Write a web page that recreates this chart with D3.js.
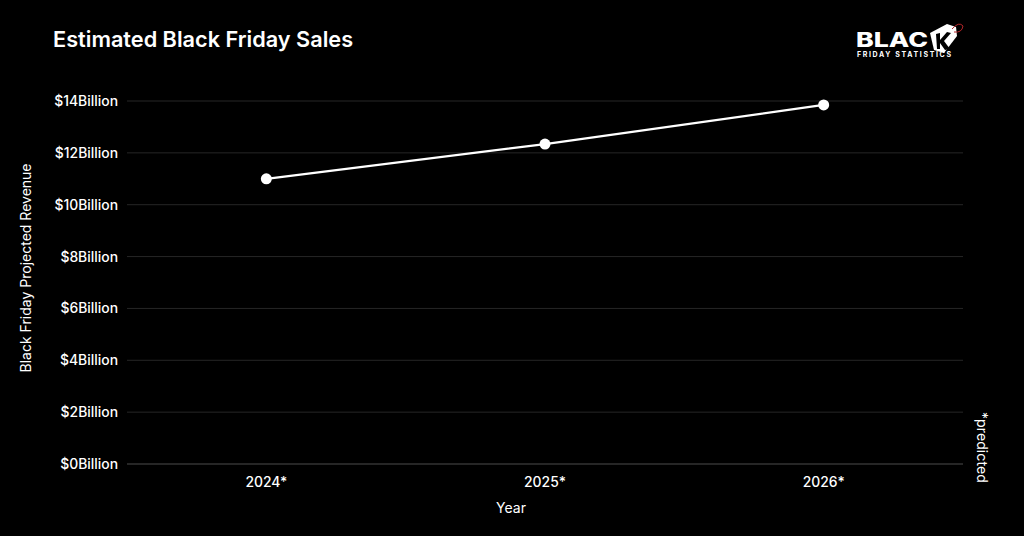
<!DOCTYPE html>
<html><head><meta charset="utf-8">
<script src="https://cdn.jsdelivr.net/npm/d3@7"></script>
<style>html,body{margin:0;padding:0;background:#000;}svg{display:block;}</style>
</head><body>
<svg id="c" width="1024" height="536"></svg>
<script>
const categories = ["2024*", "2025*", "2026*"];
const revenue = [11.0, 12.34, 13.85];
const yTicks = [0, 2, 4, 6, 8, 10, 12, 14];

const svg = d3.select("#c");
const W = 1024, H = 536;
svg.append("rect").attr("width", W).attr("height", H).attr("fill", "#000");
const m = {left: 127, right: 963, top: 101, bottom: 464};
const font = "Inter, 'Noto Sans', sans-serif";

const x = d3.scaleBand().domain(categories).range([m.left, m.right]);
const y = d3.scaleLinear().domain([0, 14]).range([m.bottom, m.top]);

// gridlines
svg.append("g").selectAll("line").data(yTicks.filter(d => d > 0)).join("line")
  .attr("x1", m.left).attr("x2", m.right)
  .attr("y1", d => y(d)).attr("y2", d => y(d))
  .attr("stroke", "#262626").attr("stroke-width", 1);
svg.append("line").attr("x1", m.left).attr("x2", m.right)
  .attr("y1", y(0)).attr("y2", y(0)).attr("stroke", "#4d4d4d").attr("stroke-width", 1);

// y axis labels
const yAxis = d3.axisLeft(y).tickValues(yTicks).tickSize(0).tickPadding(9)
  .tickFormat(d => "$" + d + "Billion");
const gy = svg.append("g").attr("transform", `translate(${m.left},0)`).call(yAxis);
gy.select(".domain").remove();
gy.selectAll("text").attr("fill", "#fff").attr("font-family", font)
  .attr("font-size", 13.9).attr("font-weight", 500);

// x axis labels
const xAxis = d3.axisBottom(x).tickSize(0).tickPadding(13);
const gx = svg.append("g").attr("transform", `translate(0,${m.bottom})`).call(xAxis);
gx.select(".domain").remove();
gx.selectAll("text").attr("fill", "#fff").attr("font-family", font)
  .attr("font-size", 13.9).attr("font-weight", 500);

// line
const cx = d => x(d) + x.bandwidth() / 2;
const line = d3.line().x((d, i) => cx(categories[i])).y(d => y(d));
svg.append("path").datum(revenue).attr("d", line)
  .attr("fill", "none").attr("stroke", "#fff").attr("stroke-width", 2.2);
svg.append("g").selectAll("circle").data(revenue).join("circle")
  .attr("cx", (d, i) => cx(categories[i])).attr("cy", d => y(d)).attr("r", 5.5)
  .attr("fill", "#fff");

// titles
svg.append("text").attr("x", 53).attr("y", 47).text("Estimated Black Friday Sales")
  .attr("fill", "#fff").attr("font-family", font).attr("font-size", 21.7).attr("font-weight", 600);
svg.append("text").attr("x", 511).attr("y", 513).attr("text-anchor", "middle")
  .text("Year").attr("fill", "#fff").attr("font-family", font).attr("font-size", 14);
svg.append("text").attr("transform", "translate(31,268) rotate(-90)").attr("text-anchor", "middle")
  .text("Black Friday Projected Revenue").attr("fill", "#fff").attr("font-family", font).attr("font-size", 14);
svg.append("text").attr("transform", "translate(977,412) rotate(90)").attr("text-anchor", "start")
  .text("*predicted").attr("fill", "#fff").attr("font-family", font).attr("font-size", 14.2);

// logo
const lg = svg.append("g");
lg.append("text").attr("x", 856).attr("y", 47).text("BLAC")
  .attr("textLength", 72).attr("lengthAdjust", "spacingAndGlyphs")
  .attr("fill", "#fff").attr("font-family", font).attr("font-size", 20).attr("font-weight", 800);
lg.append("path").attr("d", "M930,33 L947,24 L956,27 L957,36 L944,53 L934,50 Z").attr("fill", "#fff");
lg.append("path").attr("d", "M936,34 L940,33 L940,40 L947,32 L951,33 L944,41 L950,49 L945,50 L940,43 L940,49 L937,49 Z").attr("fill", "#000");
lg.append("path").attr("d", "M952,29 Q959,21 963,26 Q962,33 954,32").attr("fill", "none").attr("stroke", "#b3262a").attr("stroke-width", 1);
lg.append("text").attr("x", 857).attr("y", 57).text("FRIDAY STATISTICS")
  .attr("textLength", 94).attr("lengthAdjust", "spacing")
  .attr("fill", "#fff").attr("font-family", font).attr("font-size", 7).attr("font-weight", 700);
</script>
</body></html>
